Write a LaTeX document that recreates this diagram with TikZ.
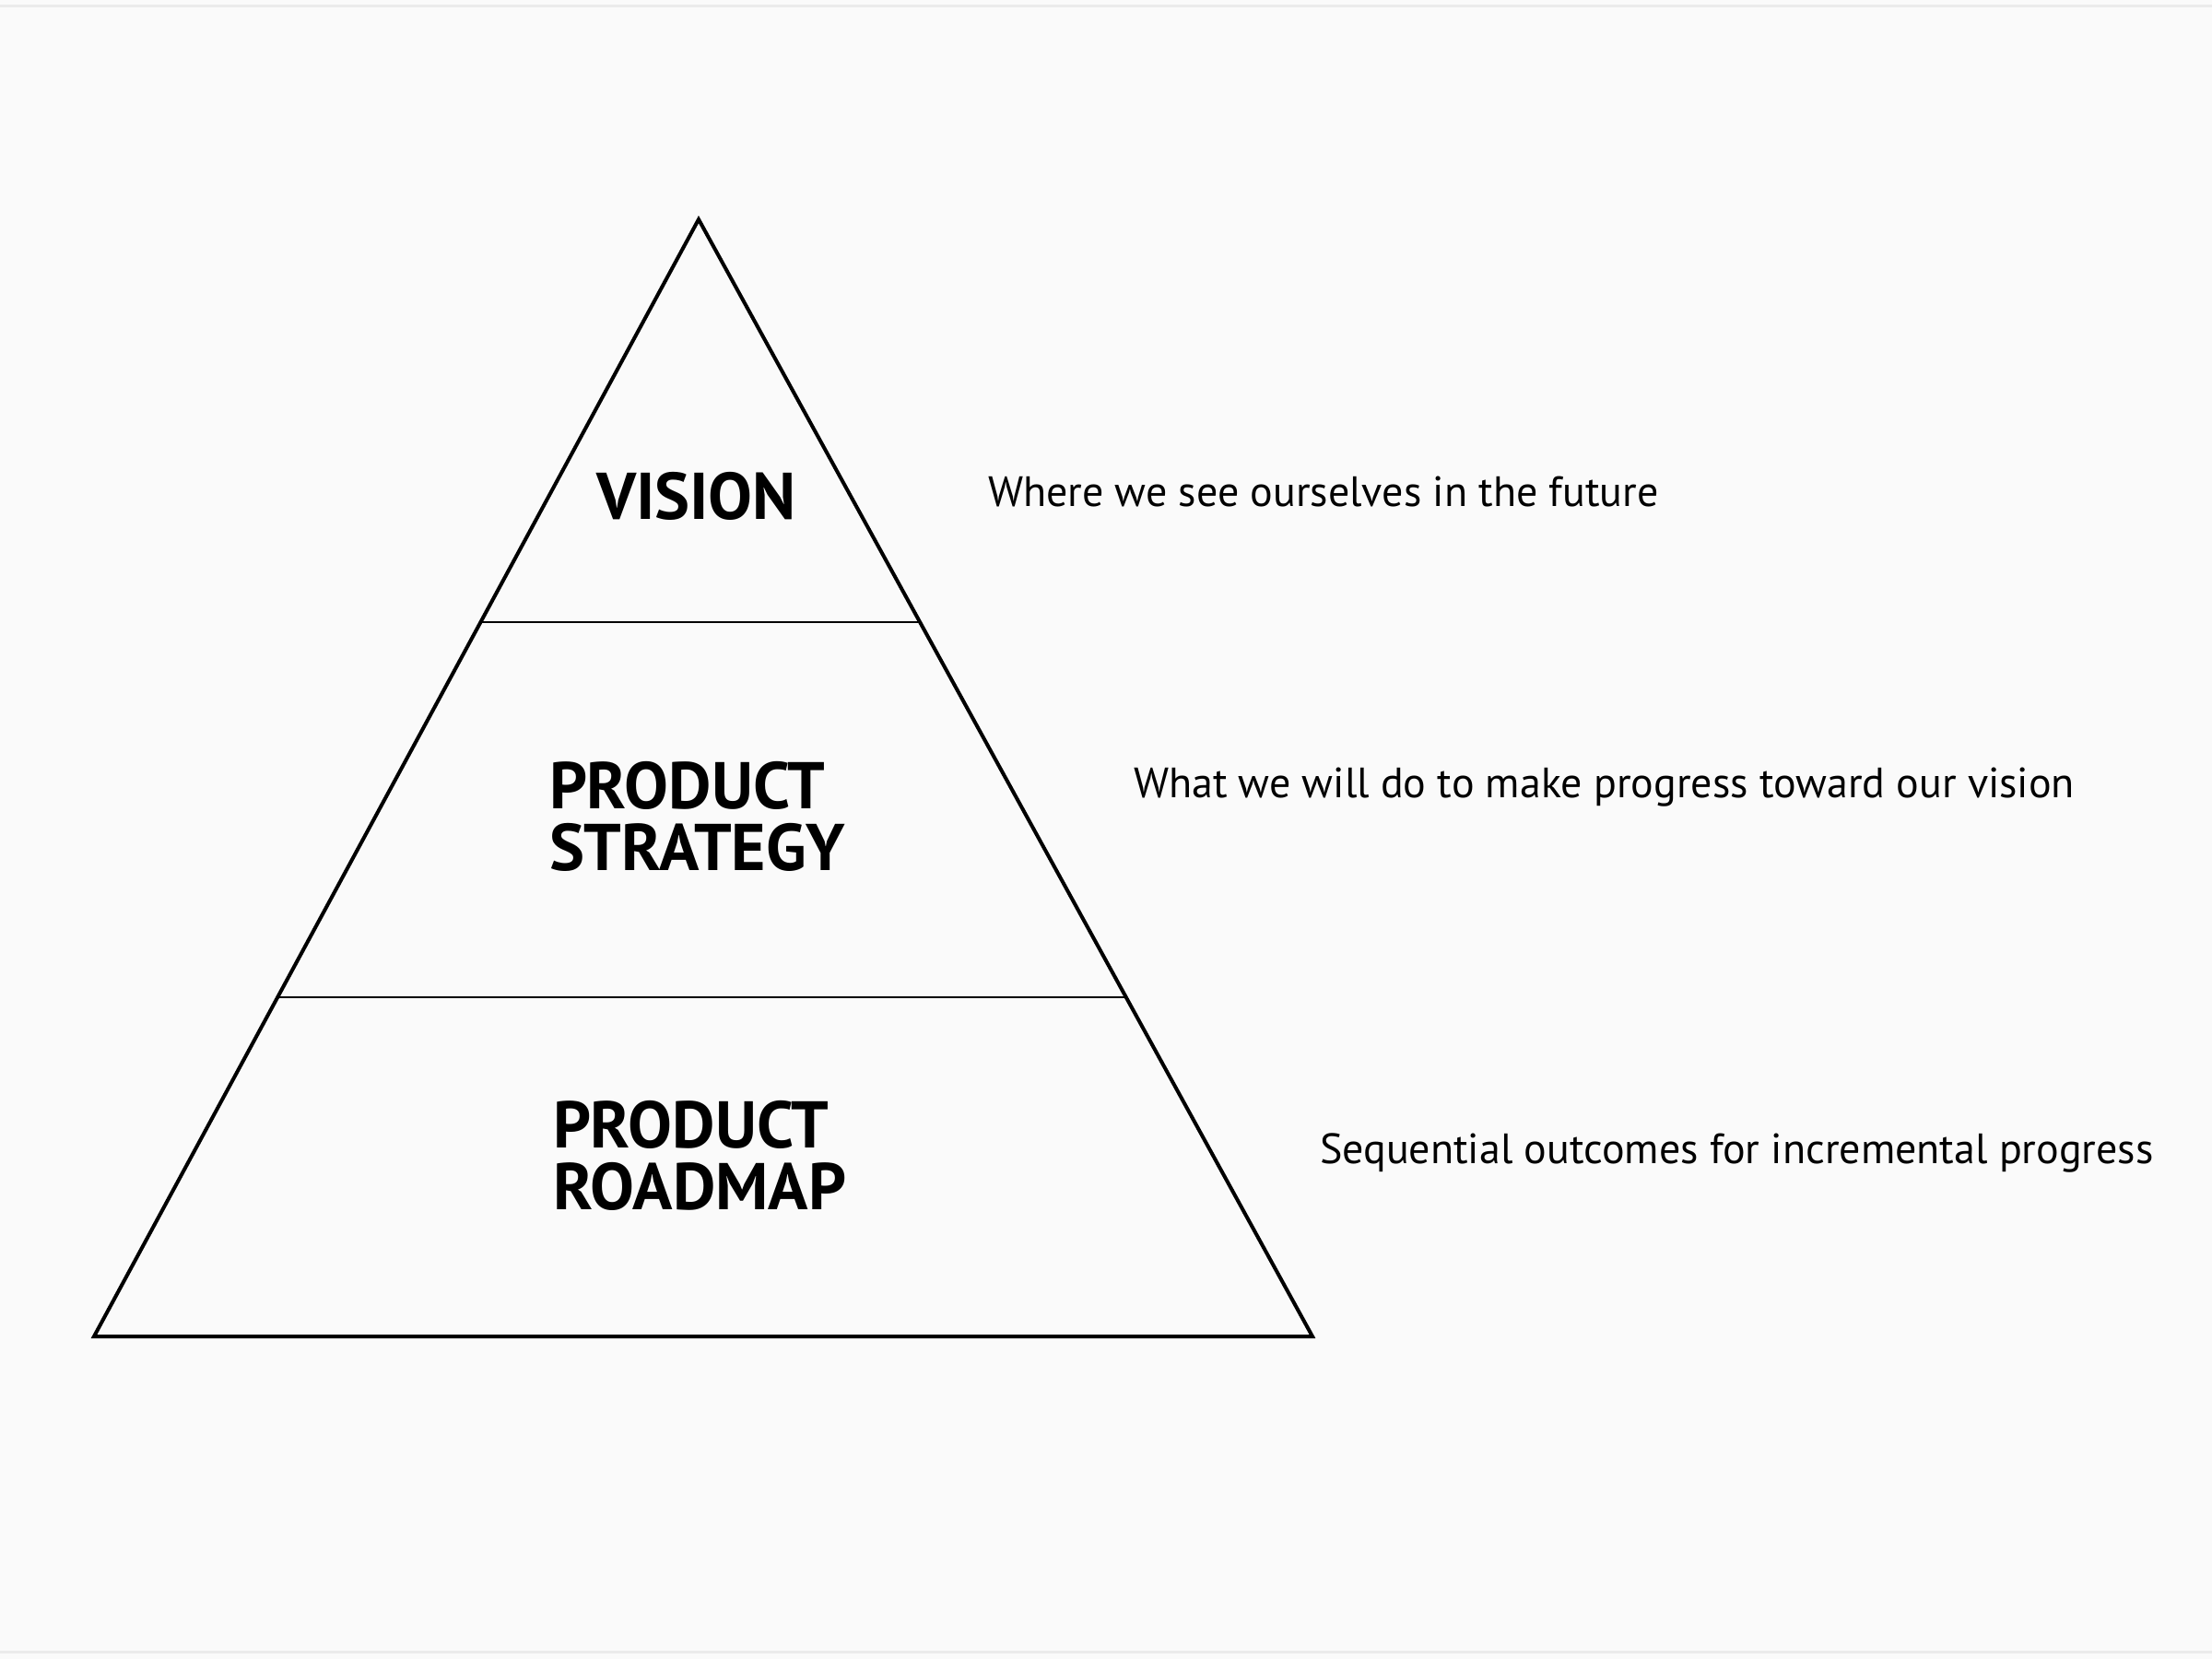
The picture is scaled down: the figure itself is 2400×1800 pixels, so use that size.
\documentclass[tikz,border=0pt]{standalone}
\usepackage{fontspec}
\setmainfont{PT Sans}
\usetikzlibrary{calc}

\definecolor{bgpaper}{RGB}{250,250,250}
\definecolor{edgegrey}{RGB}{235,235,235}

\tikzset{every picture/.style={line width=1.2pt}}
\tikzset{
  levellabel/.style={anchor=base west, inner sep=0pt, align=left, font=\fontsize{21.5}{20}\selectfont\bfseries},
  notetext/.style={anchor=base west, inner sep=0pt, font=\fontsize{13.8}{15}\selectfont},
}

\begin{document}
\begin{tikzpicture}[x=0.3pt,y=0.3pt,yscale=-1,xscale=1]
%set diagram size: 2400 x 1800
\path [fill=bgpaper] (0,0) rectangle (2400,1800);
\useasboundingbox (0,0) rectangle (2400,1800);

%Straight Lines [top and bottom edges]
\draw [edgegrey, line width=0.9]    (0,6) -- (2400,6) ;
\draw [edgegrey, line width=0.9]    (0,1792) -- (2400,1792) ;

%Shape: Triangle
\coordinate (apex) at (758,238);
\coordinate (baseL) at (102,1450);
\coordinate (baseR) at (1424,1450);
\draw [line join=miter]   (apex) -- (baseR) -- (baseL) -- cycle ;

%Straight Lines [level dividers]
\coordinate (cutAL) at ($(apex)!0.3606!(baseL)$);
\coordinate (cutAR) at ($(apex)!0.3606!(baseR)$);
\coordinate (cutBL) at ($(apex)!0.6964!(baseL)$);
\coordinate (cutBR) at ($(apex)!0.6964!(baseR)$);
\draw [line width=0.75]    (cutAL) -- (cutAR) ;
\draw [line width=0.75]    (cutBL) -- (cutBR) ;

% Text Node
\node (vision) [levellabel] at (645,563) {VISION};
% Text Node
\node (strategy) [levellabel] at (594,944) {PRODUCT\\STRATEGY};
% Text Node
\node (roadmap) [levellabel] at (598,1312) {PRODUCT\\ROADMAP};

% Text Node
\node (visionnote) [notetext] at (1070,549) {Where we see ourselves in the future};
% Text Node
\node (strategynote) [notetext] at (1228,865) {What we will do to make progress toward our vision};
% Text Node
\node (roadmapnote) [notetext] at (1430,1262) {Sequential outcomes for incremental progress};

\end{tikzpicture}
\end{document}
